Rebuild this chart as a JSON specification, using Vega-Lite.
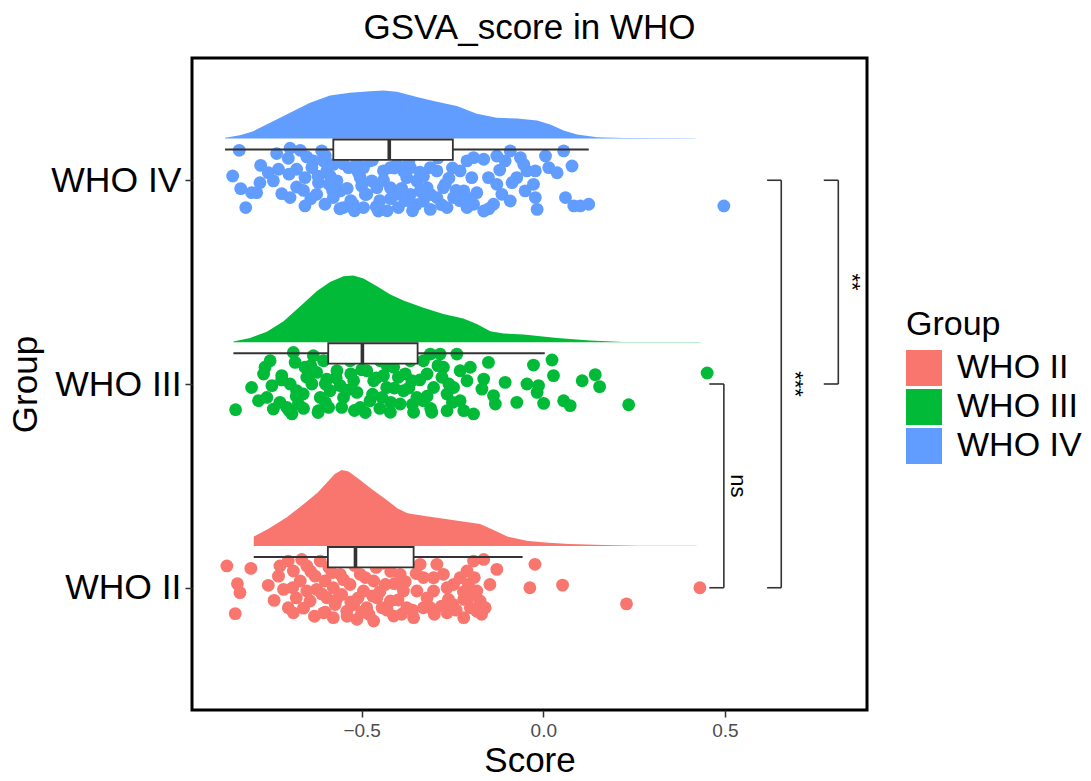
{
  "$schema": "https://vega.github.io/schema/vega-lite/v6.json",
  "width": 675,
  "height": 652,
  "autosize": {"type": "none"},
  "padding": {"left": 192, "top": 58, "right": 224, "bottom": 71},
  "background": "white",
  "config": {
    "font": "Liberation Sans",
    "view": {"stroke": "#000000", "strokeWidth": 3},
    "axis": {"grid": false, "domain": false}
  },
  "title": {
    "text": "GSVA_score in WHO",
    "fontSize": 35,
    "fontWeight": "normal",
    "color": "#000000",
    "anchor": "middle",
    "offset": 12
  },
  "datasets": {
    "dens": [
      {"Group": "WHO IV", "Score": -0.876, "density": 0.003},
      {"Group": "WHO IV", "Score": -0.835, "density": 0.016},
      {"Group": "WHO IV", "Score": -0.798, "density": 0.036},
      {"Group": "WHO IV", "Score": -0.752, "density": 0.077},
      {"Group": "WHO IV", "Score": -0.697, "density": 0.126},
      {"Group": "WHO IV", "Score": -0.642, "density": 0.175},
      {"Group": "WHO IV", "Score": -0.587, "density": 0.211},
      {"Group": "WHO IV", "Score": -0.532, "density": 0.225},
      {"Group": "WHO IV", "Score": -0.477, "density": 0.232},
      {"Group": "WHO IV", "Score": -0.44, "density": 0.236},
      {"Group": "WHO IV", "Score": -0.403, "density": 0.229},
      {"Group": "WHO IV", "Score": -0.348, "density": 0.203},
      {"Group": "WHO IV", "Score": -0.293, "density": 0.18},
      {"Group": "WHO IV", "Score": -0.238, "density": 0.159},
      {"Group": "WHO IV", "Score": -0.183, "density": 0.121},
      {"Group": "WHO IV", "Score": -0.128, "density": 0.102},
      {"Group": "WHO IV", "Score": -0.072, "density": 0.098},
      {"Group": "WHO IV", "Score": -0.017, "density": 0.088},
      {"Group": "WHO IV", "Score": 0.019, "density": 0.069},
      {"Group": "WHO IV", "Score": 0.056, "density": 0.039},
      {"Group": "WHO IV", "Score": 0.093, "density": 0.02},
      {"Group": "WHO IV", "Score": 0.148, "density": 0.006},
      {"Group": "WHO IV", "Score": 0.221, "density": 0.002},
      {"Group": "WHO IV", "Score": 0.419, "density": 0.0015},
      {"Group": "WHO III", "Score": -0.853, "density": 0.003},
      {"Group": "WHO III", "Score": -0.807, "density": 0.021},
      {"Group": "WHO III", "Score": -0.761, "density": 0.051},
      {"Group": "WHO III", "Score": -0.715, "density": 0.103},
      {"Group": "WHO III", "Score": -0.669, "density": 0.177},
      {"Group": "WHO III", "Score": -0.623, "density": 0.251},
      {"Group": "WHO III", "Score": -0.587, "density": 0.296},
      {"Group": "WHO III", "Score": -0.55, "density": 0.324},
      {"Group": "WHO III", "Score": -0.523, "density": 0.328},
      {"Group": "WHO III", "Score": -0.495, "density": 0.313},
      {"Group": "WHO III", "Score": -0.458, "density": 0.275},
      {"Group": "WHO III", "Score": -0.421, "density": 0.234},
      {"Group": "WHO III", "Score": -0.385, "density": 0.205},
      {"Group": "WHO III", "Score": -0.33, "density": 0.169},
      {"Group": "WHO III", "Score": -0.275, "density": 0.139},
      {"Group": "WHO III", "Score": -0.22, "density": 0.116},
      {"Group": "WHO III", "Score": -0.183, "density": 0.09},
      {"Group": "WHO III", "Score": -0.146, "density": 0.054},
      {"Group": "WHO III", "Score": -0.109, "density": 0.043},
      {"Group": "WHO III", "Score": -0.054, "density": 0.038},
      {"Group": "WHO III", "Score": 0.038, "density": 0.021},
      {"Group": "WHO III", "Score": 0.129, "density": 0.008},
      {"Group": "WHO III", "Score": 0.221, "density": 0.0015},
      {"Group": "WHO III", "Score": 0.433, "density": 0.001},
      {"Group": "WHO II", "Score": -0.797, "density": 0.046},
      {"Group": "WHO II", "Score": -0.754, "density": 0.087},
      {"Group": "WHO II", "Score": -0.706, "density": 0.141},
      {"Group": "WHO II", "Score": -0.659, "density": 0.206},
      {"Group": "WHO II", "Score": -0.621, "density": 0.262},
      {"Group": "WHO II", "Score": -0.593, "density": 0.316},
      {"Group": "WHO II", "Score": -0.574, "density": 0.353},
      {"Group": "WHO II", "Score": -0.555, "density": 0.373},
      {"Group": "WHO II", "Score": -0.536, "density": 0.365},
      {"Group": "WHO II", "Score": -0.507, "density": 0.327},
      {"Group": "WHO II", "Score": -0.469, "density": 0.275},
      {"Group": "WHO II", "Score": -0.431, "density": 0.226},
      {"Group": "WHO II", "Score": -0.402, "density": 0.185},
      {"Group": "WHO II", "Score": -0.374, "density": 0.161},
      {"Group": "WHO II", "Score": -0.326, "density": 0.147},
      {"Group": "WHO II", "Score": -0.269, "density": 0.133},
      {"Group": "WHO II", "Score": -0.212, "density": 0.118},
      {"Group": "WHO II", "Score": -0.174, "density": 0.108},
      {"Group": "WHO II", "Score": -0.137, "density": 0.079},
      {"Group": "WHO II", "Score": -0.099, "density": 0.046},
      {"Group": "WHO II", "Score": -0.042, "density": 0.025},
      {"Group": "WHO II", "Score": 0.015, "density": 0.016},
      {"Group": "WHO II", "Score": 0.072, "density": 0.01},
      {"Group": "WHO II", "Score": 0.167, "density": 0.005},
      {"Group": "WHO II", "Score": 0.263, "density": 0.0015},
      {"Group": "WHO II", "Score": 0.422, "density": 0.0015}
    ],
    "pts": [
      {"Group": "WHO IV", "Score": -0.837, "jitter": 0.147},
      {"Group": "WHO IV", "Score": -0.855, "jitter": 0.021},
      {"Group": "WHO IV", "Score": -0.833, "jitter": -0.041},
      {"Group": "WHO IV", "Score": -0.803, "jitter": -0.061},
      {"Group": "WHO IV", "Score": -0.789, "jitter": -0.061},
      {"Group": "WHO IV", "Score": -0.819, "jitter": -0.134},
      {"Group": "WHO IV", "Score": -0.778, "jitter": 0.073},
      {"Group": "WHO IV", "Score": -0.757, "jitter": 0.037},
      {"Group": "WHO IV", "Score": -0.78, "jitter": -0.012},
      {"Group": "WHO IV", "Score": -0.734, "jitter": 0.131},
      {"Group": "WHO IV", "Score": -0.729, "jitter": 0.054},
      {"Group": "WHO IV", "Score": -0.743, "jitter": -0.003},
      {"Group": "WHO IV", "Score": -0.72, "jitter": -0.066},
      {"Group": "WHO IV", "Score": -0.697, "jitter": 0.157},
      {"Group": "WHO IV", "Score": -0.702, "jitter": 0.108},
      {"Group": "WHO IV", "Score": -0.669, "jitter": 0.147},
      {"Group": "WHO IV", "Score": -0.679, "jitter": 0.054},
      {"Group": "WHO IV", "Score": -0.656, "jitter": 0.013},
      {"Group": "WHO IV", "Score": -0.679, "jitter": -0.033},
      {"Group": "WHO IV", "Score": -0.697, "jitter": -0.085},
      {"Group": "WHO IV", "Score": -0.656, "jitter": -0.126},
      {"Group": "WHO IV", "Score": -0.651, "jitter": 0.114},
      {"Group": "WHO IV", "Score": -0.633, "jitter": 0.095},
      {"Group": "WHO IV", "Score": -0.637, "jitter": 0.062},
      {"Group": "WHO IV", "Score": -0.61, "jitter": 0.144},
      {"Group": "WHO IV", "Score": -0.605, "jitter": 0.095},
      {"Group": "WHO IV", "Score": -0.596, "jitter": 0.046},
      {"Group": "WHO IV", "Score": -0.619, "jitter": -0.012},
      {"Group": "WHO IV", "Score": -0.624, "jitter": -0.069},
      {"Group": "WHO IV", "Score": -0.601, "jitter": -0.118},
      {"Group": "WHO IV", "Score": -0.578, "jitter": 0.078},
      {"Group": "WHO IV", "Score": -0.587, "jitter": 0.021},
      {"Group": "WHO IV", "Score": -0.568, "jitter": -0.003},
      {"Group": "WHO IV", "Score": -0.559, "jitter": -0.052},
      {"Group": "WHO IV", "Score": -0.578, "jitter": -0.085},
      {"Group": "WHO IV", "Score": -0.55, "jitter": -0.134},
      {"Group": "WHO IV", "Score": -0.536, "jitter": 0.062},
      {"Group": "WHO IV", "Score": -0.513, "jitter": 0.095},
      {"Group": "WHO IV", "Score": -0.495, "jitter": 0.062},
      {"Group": "WHO IV", "Score": -0.477, "jitter": 0.095},
      {"Group": "WHO IV", "Score": -0.504, "jitter": 0.013},
      {"Group": "WHO IV", "Score": -0.5, "jitter": -0.028},
      {"Group": "WHO IV", "Score": -0.486, "jitter": -0.069},
      {"Group": "WHO IV", "Score": -0.523, "jitter": -0.118},
      {"Group": "WHO IV", "Score": -0.495, "jitter": -0.134},
      {"Group": "WHO IV", "Score": -0.454, "jitter": -0.151},
      {"Group": "WHO IV", "Score": -0.458, "jitter": -0.036},
      {"Group": "WHO IV", "Score": -0.472, "jitter": -0.003},
      {"Group": "WHO IV", "Score": -0.44, "jitter": 0.046},
      {"Group": "WHO IV", "Score": -0.421, "jitter": 0.062},
      {"Group": "WHO IV", "Score": -0.403, "jitter": 0.078},
      {"Group": "WHO IV", "Score": -0.385, "jitter": 0.046},
      {"Group": "WHO IV", "Score": -0.366, "jitter": 0.062},
      {"Group": "WHO IV", "Score": -0.421, "jitter": -0.036},
      {"Group": "WHO IV", "Score": -0.403, "jitter": -0.069},
      {"Group": "WHO IV", "Score": -0.376, "jitter": 0.013},
      {"Group": "WHO IV", "Score": -0.348, "jitter": -0.003},
      {"Group": "WHO IV", "Score": -0.366, "jitter": -0.069},
      {"Group": "WHO IV", "Score": -0.339, "jitter": -0.052},
      {"Group": "WHO IV", "Score": -0.33, "jitter": -0.102},
      {"Group": "WHO IV", "Score": -0.399, "jitter": -0.134},
      {"Group": "WHO IV", "Score": -0.311, "jitter": 0.062},
      {"Group": "WHO IV", "Score": -0.293, "jitter": 0.046},
      {"Group": "WHO IV", "Score": -0.32, "jitter": -0.036},
      {"Group": "WHO IV", "Score": -0.275, "jitter": -0.036},
      {"Group": "WHO IV", "Score": -0.293, "jitter": -0.085},
      {"Group": "WHO IV", "Score": -0.311, "jitter": -0.143},
      {"Group": "WHO IV", "Score": -0.265, "jitter": -0.134},
      {"Group": "WHO IV", "Score": -0.247, "jitter": -0.085},
      {"Group": "WHO IV", "Score": -0.229, "jitter": 0.046},
      {"Group": "WHO IV", "Score": -0.21, "jitter": 0.095},
      {"Group": "WHO IV", "Score": -0.192, "jitter": 0.111},
      {"Group": "WHO IV", "Score": -0.164, "jitter": 0.103},
      {"Group": "WHO IV", "Score": -0.197, "jitter": 0.013},
      {"Group": "WHO IV", "Score": -0.219, "jitter": -0.052},
      {"Group": "WHO IV", "Score": -0.183, "jitter": -0.061},
      {"Group": "WHO IV", "Score": -0.192, "jitter": -0.118},
      {"Group": "WHO IV", "Score": -0.164, "jitter": -0.151},
      {"Group": "WHO IV", "Score": -0.21, "jitter": -0.134},
      {"Group": "WHO IV", "Score": -0.151, "jitter": 0.013},
      {"Group": "WHO IV", "Score": -0.128, "jitter": -0.02},
      {"Group": "WHO IV", "Score": -0.114, "jitter": -0.069},
      {"Group": "WHO IV", "Score": -0.091, "jitter": -0.102},
      {"Group": "WHO IV", "Score": -0.137, "jitter": -0.118},
      {"Group": "WHO IV", "Score": -0.128, "jitter": 0.119},
      {"Group": "WHO IV", "Score": -0.105, "jitter": 0.095},
      {"Group": "WHO IV", "Score": -0.091, "jitter": 0.144},
      {"Group": "WHO IV", "Score": -0.063, "jitter": 0.111},
      {"Group": "WHO IV", "Score": -0.054, "jitter": 0.078},
      {"Group": "WHO IV", "Score": -0.045, "jitter": 0.046},
      {"Group": "WHO IV", "Score": -0.073, "jitter": 0.013},
      {"Group": "WHO IV", "Score": -0.086, "jitter": -0.012},
      {"Group": "WHO IV", "Score": -0.022, "jitter": 0.046},
      {"Group": "WHO IV", "Score": -0.027, "jitter": -0.02},
      {"Group": "WHO IV", "Score": -0.05, "jitter": -0.052},
      {"Group": "WHO IV", "Score": -0.022, "jitter": -0.085},
      {"Group": "WHO IV", "Score": -0.017, "jitter": -0.143},
      {"Group": "WHO IV", "Score": 0.006, "jitter": 0.119},
      {"Group": "WHO IV", "Score": 0.015, "jitter": 0.062},
      {"Group": "WHO IV", "Score": 0.038, "jitter": 0.037},
      {"Group": "WHO IV", "Score": 0.056, "jitter": 0.144},
      {"Group": "WHO IV", "Score": 0.079, "jitter": 0.07},
      {"Group": "WHO IV", "Score": 0.061, "jitter": -0.085},
      {"Group": "WHO IV", "Score": 0.084, "jitter": -0.126},
      {"Group": "WHO IV", "Score": 0.102, "jitter": -0.126},
      {"Group": "WHO IV", "Score": 0.125, "jitter": -0.118},
      {"Group": "WHO IV", "Score": 0.497, "jitter": -0.126},
      {"Group": "WHO IV", "Score": -0.62, "jitter": 0.02},
      {"Group": "WHO IV", "Score": -0.58, "jitter": -0.05},
      {"Group": "WHO IV", "Score": -0.55, "jitter": 0.08},
      {"Group": "WHO IV", "Score": -0.53, "jitter": -0.1},
      {"Group": "WHO IV", "Score": -0.51, "jitter": 0.04},
      {"Group": "WHO IV", "Score": -0.49, "jitter": -0.07},
      {"Group": "WHO IV", "Score": -0.47, "jitter": 0.1},
      {"Group": "WHO IV", "Score": -0.46, "jitter": -0.13},
      {"Group": "WHO IV", "Score": -0.44, "jitter": 0.0},
      {"Group": "WHO IV", "Score": -0.42, "jitter": -0.09},
      {"Group": "WHO IV", "Score": -0.41, "jitter": 0.06},
      {"Group": "WHO IV", "Score": -0.39, "jitter": -0.04},
      {"Group": "WHO IV", "Score": -0.37, "jitter": 0.09},
      {"Group": "WHO IV", "Score": -0.35, "jitter": -0.12},
      {"Group": "WHO IV", "Score": -0.33, "jitter": 0.02},
      {"Group": "WHO IV", "Score": -0.31, "jitter": -0.07},
      {"Group": "WHO IV", "Score": -0.29, "jitter": 0.11},
      {"Group": "WHO IV", "Score": -0.27, "jitter": -0.02},
      {"Group": "WHO IV", "Score": -0.25, "jitter": 0.06},
      {"Group": "WHO IV", "Score": -0.23, "jitter": -0.1},
      {"Group": "WHO IV", "Score": -0.6, "jitter": 0.12},
      {"Group": "WHO IV", "Score": -0.66, "jitter": -0.05},
      {"Group": "WHO IV", "Score": -0.7, "jitter": 0.03},
      {"Group": "WHO IV", "Score": -0.56, "jitter": -0.14},
      {"Group": "WHO IV", "Score": -0.48, "jitter": 0.13},
      {"Group": "WHO IV", "Score": -0.64, "jitter": -0.09},
      {"Group": "WHO IV", "Score": -0.59, "jitter": -0.02},
      {"Group": "WHO IV", "Score": -0.54, "jitter": -0.04},
      {"Group": "WHO IV", "Score": -0.52, "jitter": -0.15},
      {"Group": "WHO IV", "Score": -0.45, "jitter": -0.1},
      {"Group": "WHO IV", "Score": -0.43, "jitter": -0.15},
      {"Group": "WHO IV", "Score": -0.38, "jitter": -0.1},
      {"Group": "WHO IV", "Score": -0.36, "jitter": -0.15},
      {"Group": "WHO IV", "Score": -0.34, "jitter": 0.04},
      {"Group": "WHO IV", "Score": -0.28, "jitter": -0.12},
      {"Group": "WHO IV", "Score": -0.26, "jitter": 0.01},
      {"Group": "WHO IV", "Score": -0.24, "jitter": -0.05},
      {"Group": "WHO IV", "Score": -0.2, "jitter": -0.09},
      {"Group": "WHO IV", "Score": -0.15, "jitter": -0.14},
      {"Group": "WHO IV", "Score": -0.12, "jitter": 0.05},
      {"Group": "WHO III", "Score": -0.847, "jitter": -0.126},
      {"Group": "WHO III", "Score": -0.803, "jitter": -0.017},
      {"Group": "WHO III", "Score": -0.784, "jitter": -0.082},
      {"Group": "WHO III", "Score": -0.766, "jitter": 0.082},
      {"Group": "WHO III", "Score": -0.752, "jitter": 0.114},
      {"Group": "WHO III", "Score": -0.77, "jitter": 0.049},
      {"Group": "WHO III", "Score": -0.747, "jitter": -0.008},
      {"Group": "WHO III", "Score": -0.761, "jitter": -0.066},
      {"Group": "WHO III", "Score": -0.743, "jitter": -0.123},
      {"Group": "WHO III", "Score": -0.72, "jitter": 0.041},
      {"Group": "WHO III", "Score": -0.725, "jitter": -0.09},
      {"Group": "WHO III", "Score": -0.706, "jitter": -0.115},
      {"Group": "WHO III", "Score": -0.692, "jitter": -0.147},
      {"Group": "WHO III", "Score": -0.688, "jitter": 0.155},
      {"Group": "WHO III", "Score": -0.683, "jitter": 0.106},
      {"Group": "WHO III", "Score": -0.697, "jitter": 0.0},
      {"Group": "WHO III", "Score": -0.679, "jitter": -0.033},
      {"Group": "WHO III", "Score": -0.674, "jitter": -0.098},
      {"Group": "WHO III", "Score": -0.656, "jitter": 0.082},
      {"Group": "WHO III", "Score": -0.651, "jitter": 0.033},
      {"Group": "WHO III", "Score": -0.661, "jitter": -0.049},
      {"Group": "WHO III", "Score": -0.633, "jitter": 0.139},
      {"Group": "WHO III", "Score": -0.624, "jitter": 0.057},
      {"Group": "WHO III", "Score": -0.637, "jitter": 0.0},
      {"Group": "WHO III", "Score": -0.614, "jitter": -0.066},
      {"Group": "WHO III", "Score": -0.619, "jitter": -0.131},
      {"Group": "WHO III", "Score": -0.605, "jitter": 0.114},
      {"Group": "WHO III", "Score": -0.596, "jitter": 0.024},
      {"Group": "WHO III", "Score": -0.587, "jitter": -0.033},
      {"Group": "WHO III", "Score": -0.591, "jitter": -0.115},
      {"Group": "WHO III", "Score": -0.568, "jitter": 0.065},
      {"Group": "WHO III", "Score": -0.559, "jitter": -0.008},
      {"Group": "WHO III", "Score": -0.55, "jitter": -0.066},
      {"Group": "WHO III", "Score": -0.555, "jitter": -0.115},
      {"Group": "WHO III", "Score": -0.532, "jitter": 0.114},
      {"Group": "WHO III", "Score": -0.522, "jitter": 0.016},
      {"Group": "WHO III", "Score": -0.513, "jitter": -0.041},
      {"Group": "WHO III", "Score": -0.504, "jitter": -0.115},
      {"Group": "WHO III", "Score": -0.486, "jitter": 0.065},
      {"Group": "WHO III", "Score": -0.467, "jitter": 0.016},
      {"Group": "WHO III", "Score": -0.477, "jitter": -0.082},
      {"Group": "WHO III", "Score": -0.449, "jitter": 0.114},
      {"Group": "WHO III", "Score": -0.44, "jitter": 0.041},
      {"Group": "WHO III", "Score": -0.431, "jitter": -0.017},
      {"Group": "WHO III", "Score": -0.444, "jitter": -0.066},
      {"Group": "WHO III", "Score": -0.421, "jitter": -0.139},
      {"Group": "WHO III", "Score": -0.412, "jitter": 0.082},
      {"Group": "WHO III", "Score": -0.399, "jitter": 0.033},
      {"Group": "WHO III", "Score": -0.385, "jitter": -0.033},
      {"Group": "WHO III", "Score": -0.394, "jitter": -0.098},
      {"Group": "WHO III", "Score": -0.366, "jitter": 0.114},
      {"Group": "WHO III", "Score": -0.362, "jitter": 0.016},
      {"Group": "WHO III", "Score": -0.348, "jitter": -0.066},
      {"Group": "WHO III", "Score": -0.357, "jitter": -0.139},
      {"Group": "WHO III", "Score": -0.33, "jitter": 0.114},
      {"Group": "WHO III", "Score": -0.32, "jitter": 0.049},
      {"Group": "WHO III", "Score": -0.311, "jitter": 0.147},
      {"Group": "WHO III", "Score": -0.302, "jitter": -0.017},
      {"Group": "WHO III", "Score": -0.33, "jitter": -0.082},
      {"Group": "WHO III", "Score": -0.307, "jitter": -0.139},
      {"Group": "WHO III", "Score": -0.284, "jitter": 0.147},
      {"Group": "WHO III", "Score": -0.275, "jitter": 0.082},
      {"Group": "WHO III", "Score": -0.279, "jitter": 0.033},
      {"Group": "WHO III", "Score": -0.265, "jitter": -0.049},
      {"Group": "WHO III", "Score": -0.265, "jitter": -0.131},
      {"Group": "WHO III", "Score": -0.238, "jitter": 0.147},
      {"Group": "WHO III", "Score": -0.229, "jitter": 0.065},
      {"Group": "WHO III", "Score": -0.247, "jitter": -0.017},
      {"Group": "WHO III", "Score": -0.229, "jitter": -0.082},
      {"Group": "WHO III", "Score": -0.219, "jitter": -0.131},
      {"Group": "WHO III", "Score": -0.201, "jitter": 0.082},
      {"Group": "WHO III", "Score": -0.21, "jitter": 0.016},
      {"Group": "WHO III", "Score": -0.192, "jitter": -0.147},
      {"Group": "WHO III", "Score": -0.164, "jitter": 0.024},
      {"Group": "WHO III", "Score": -0.169, "jitter": -0.025},
      {"Group": "WHO III", "Score": -0.151, "jitter": 0.106},
      {"Group": "WHO III", "Score": -0.137, "jitter": -0.057},
      {"Group": "WHO III", "Score": -0.132, "jitter": -0.098},
      {"Group": "WHO III", "Score": -0.105, "jitter": 0.008},
      {"Group": "WHO III", "Score": -0.073, "jitter": -0.09},
      {"Group": "WHO III", "Score": -0.045, "jitter": 0.0},
      {"Group": "WHO III", "Score": -0.027, "jitter": 0.093},
      {"Group": "WHO III", "Score": -0.017, "jitter": -0.041},
      {"Group": "WHO III", "Score": 0.001, "jitter": -0.095},
      {"Group": "WHO III", "Score": -0.013, "jitter": -0.008},
      {"Group": "WHO III", "Score": 0.024, "jitter": 0.118},
      {"Group": "WHO III", "Score": 0.028, "jitter": 0.041},
      {"Group": "WHO III", "Score": 0.056, "jitter": -0.082},
      {"Group": "WHO III", "Score": 0.074, "jitter": -0.106},
      {"Group": "WHO III", "Score": 0.107, "jitter": 0.016},
      {"Group": "WHO III", "Score": 0.143, "jitter": 0.046},
      {"Group": "WHO III", "Score": 0.155, "jitter": -0.013},
      {"Group": "WHO III", "Score": 0.235, "jitter": -0.102},
      {"Group": "WHO III", "Score": 0.451, "jitter": 0.054},
      {"Group": "WHO III", "Score": -0.72, "jitter": 0.02},
      {"Group": "WHO III", "Score": -0.68, "jitter": -0.06},
      {"Group": "WHO III", "Score": -0.64, "jitter": 0.09},
      {"Group": "WHO III", "Score": -0.6, "jitter": -0.09},
      {"Group": "WHO III", "Score": -0.57, "jitter": 0.03},
      {"Group": "WHO III", "Score": -0.54, "jitter": -0.03},
      {"Group": "WHO III", "Score": -0.52, "jitter": -0.13},
      {"Group": "WHO III", "Score": -0.5, "jitter": 0.07},
      {"Group": "WHO III", "Score": -0.47, "jitter": -0.05},
      {"Group": "WHO III", "Score": -0.45, "jitter": -0.12},
      {"Group": "WHO III", "Score": -0.43, "jitter": 0.09},
      {"Group": "WHO III", "Score": -0.41, "jitter": -0.02},
      {"Group": "WHO III", "Score": -0.38, "jitter": 0.05},
      {"Group": "WHO III", "Score": -0.36, "jitter": -0.1},
      {"Group": "WHO III", "Score": -0.34, "jitter": 0.02},
      {"Group": "WHO III", "Score": -0.32, "jitter": -0.06},
      {"Group": "WHO III", "Score": -0.29, "jitter": 0.09},
      {"Group": "WHO III", "Score": -0.25, "jitter": -0.09},
      {"Group": "WHO III", "Score": -0.62, "jitter": -0.14},
      {"Group": "WHO III", "Score": -0.58, "jitter": 0.13},
      {"Group": "WHO III", "Score": -0.7, "jitter": -0.13},
      {"Group": "WHO III", "Score": -0.66, "jitter": -0.12},
      {"Group": "WHO III", "Score": -0.6, "jitter": 0.0},
      {"Group": "WHO III", "Score": -0.53, "jitter": 0.05},
      {"Group": "WHO III", "Score": -0.49, "jitter": -0.14},
      {"Group": "WHO III", "Score": -0.46, "jitter": 0.03},
      {"Group": "WHO III", "Score": -0.42, "jitter": -0.09},
      {"Group": "WHO III", "Score": -0.37, "jitter": -0.02},
      {"Group": "WHO III", "Score": -0.31, "jitter": -0.12},
      {"Group": "WHO III", "Score": -0.26, "jitter": 0.0},
      {"Group": "WHO II", "Score": -0.871, "jitter": 0.107},
      {"Group": "WHO II", "Score": -0.805, "jitter": 0.095},
      {"Group": "WHO II", "Score": -0.842, "jitter": 0.02},
      {"Group": "WHO II", "Score": -0.835, "jitter": -0.024},
      {"Group": "WHO II", "Score": -0.848, "jitter": -0.127},
      {"Group": "WHO II", "Score": -0.741, "jitter": -0.062},
      {"Group": "WHO II", "Score": -0.757, "jitter": 0.012},
      {"Group": "WHO II", "Score": -0.725, "jitter": 0.107},
      {"Group": "WHO II", "Score": -0.729, "jitter": 0.057},
      {"Group": "WHO II", "Score": -0.715, "jitter": -0.008},
      {"Group": "WHO II", "Score": -0.702, "jitter": -0.098},
      {"Group": "WHO II", "Score": -0.688, "jitter": -0.123},
      {"Group": "WHO II", "Score": -0.702, "jitter": 0.131},
      {"Group": "WHO II", "Score": -0.688, "jitter": 0.082},
      {"Group": "WHO II", "Score": -0.669, "jitter": 0.033},
      {"Group": "WHO II", "Score": -0.665, "jitter": 0.139},
      {"Group": "WHO II", "Score": -0.651, "jitter": 0.107},
      {"Group": "WHO II", "Score": -0.651, "jitter": -0.016},
      {"Group": "WHO II", "Score": -0.642, "jitter": -0.065},
      {"Group": "WHO II", "Score": -0.628, "jitter": 0.057},
      {"Group": "WHO II", "Score": -0.624, "jitter": -0.008},
      {"Group": "WHO II", "Score": -0.614, "jitter": 0.131},
      {"Group": "WHO II", "Score": -0.601, "jitter": 0.033},
      {"Group": "WHO II", "Score": -0.596, "jitter": -0.049},
      {"Group": "WHO II", "Score": -0.605, "jitter": -0.123},
      {"Group": "WHO II", "Score": -0.582, "jitter": 0.074},
      {"Group": "WHO II", "Score": -0.578, "jitter": 0.0},
      {"Group": "WHO II", "Score": -0.573, "jitter": -0.082},
      {"Group": "WHO II", "Score": -0.578, "jitter": -0.147},
      {"Group": "WHO II", "Score": -0.559, "jitter": 0.066},
      {"Group": "WHO II", "Score": -0.555, "jitter": -0.033},
      {"Group": "WHO II", "Score": -0.541, "jitter": -0.115},
      {"Group": "WHO II", "Score": -0.532, "jitter": 0.016},
      {"Group": "WHO II", "Score": -0.522, "jitter": -0.082},
      {"Group": "WHO II", "Score": -0.513, "jitter": -0.155},
      {"Group": "WHO II", "Score": -0.504, "jitter": 0.066},
      {"Group": "WHO II", "Score": -0.495, "jitter": -0.016},
      {"Group": "WHO II", "Score": -0.486, "jitter": -0.098},
      {"Group": "WHO II", "Score": -0.467, "jitter": 0.033},
      {"Group": "WHO II", "Score": -0.458, "jitter": -0.049},
      {"Group": "WHO II", "Score": -0.444, "jitter": -0.098},
      {"Group": "WHO II", "Score": -0.467, "jitter": -0.163},
      {"Group": "WHO II", "Score": -0.435, "jitter": 0.016},
      {"Group": "WHO II", "Score": -0.421, "jitter": -0.065},
      {"Group": "WHO II", "Score": -0.412, "jitter": -0.139},
      {"Group": "WHO II", "Score": -0.394, "jitter": 0.066},
      {"Group": "WHO II", "Score": -0.385, "jitter": -0.016},
      {"Group": "WHO II", "Score": -0.376, "jitter": -0.098},
      {"Group": "WHO II", "Score": -0.357, "jitter": -0.147},
      {"Group": "WHO II", "Score": -0.348, "jitter": -0.016},
      {"Group": "WHO II", "Score": -0.339, "jitter": 0.115},
      {"Group": "WHO II", "Score": -0.33, "jitter": -0.098},
      {"Group": "WHO II", "Score": -0.311, "jitter": -0.098},
      {"Group": "WHO II", "Score": -0.302, "jitter": 0.049},
      {"Group": "WHO II", "Score": -0.302, "jitter": -0.016},
      {"Group": "WHO II", "Score": -0.293, "jitter": 0.115},
      {"Group": "WHO II", "Score": -0.275, "jitter": 0.066},
      {"Group": "WHO II", "Score": -0.265, "jitter": 0.0},
      {"Group": "WHO II", "Score": -0.261, "jitter": -0.057},
      {"Group": "WHO II", "Score": -0.265, "jitter": -0.123},
      {"Group": "WHO II", "Score": -0.247, "jitter": 0.016},
      {"Group": "WHO II", "Score": -0.229, "jitter": 0.049},
      {"Group": "WHO II", "Score": -0.219, "jitter": -0.057},
      {"Group": "WHO II", "Score": -0.21, "jitter": 0.082},
      {"Group": "WHO II", "Score": -0.206, "jitter": 0.016},
      {"Group": "WHO II", "Score": -0.201, "jitter": -0.098},
      {"Group": "WHO II", "Score": -0.192, "jitter": 0.131},
      {"Group": "WHO II", "Score": -0.183, "jitter": -0.016},
      {"Group": "WHO II", "Score": -0.174, "jitter": -0.065},
      {"Group": "WHO II", "Score": -0.164, "jitter": 0.139},
      {"Group": "WHO II", "Score": -0.16, "jitter": -0.098},
      {"Group": "WHO II", "Score": -0.147, "jitter": 0.016},
      {"Group": "WHO II", "Score": -0.128, "jitter": 0.09},
      {"Group": "WHO II", "Score": -0.219, "jitter": -0.147},
      {"Group": "WHO II", "Score": -0.183, "jitter": -0.115},
      {"Group": "WHO II", "Score": -0.023, "jitter": 0.115},
      {"Group": "WHO II", "Score": -0.037, "jitter": 0.0},
      {"Group": "WHO II", "Score": 0.053, "jitter": 0.013},
      {"Group": "WHO II", "Score": 0.229, "jitter": -0.079},
      {"Group": "WHO II", "Score": 0.431, "jitter": 0.0},
      {"Group": "WHO II", "Score": -0.69, "jitter": 0.0},
      {"Group": "WHO II", "Score": -0.66, "jitter": -0.1},
      {"Group": "WHO II", "Score": -0.64, "jitter": 0.08},
      {"Group": "WHO II", "Score": -0.61, "jitter": -0.03},
      {"Group": "WHO II", "Score": -0.59, "jitter": 0.1},
      {"Group": "WHO II", "Score": -0.57, "jitter": -0.06},
      {"Group": "WHO II", "Score": -0.55, "jitter": 0.04},
      {"Group": "WHO II", "Score": -0.54, "jitter": -0.14},
      {"Group": "WHO II", "Score": -0.52, "jitter": 0.11},
      {"Group": "WHO II", "Score": -0.51, "jitter": -0.05},
      {"Group": "WHO II", "Score": -0.49, "jitter": 0.05},
      {"Group": "WHO II", "Score": -0.48, "jitter": -0.13},
      {"Group": "WHO II", "Score": -0.46, "jitter": 0.1},
      {"Group": "WHO II", "Score": -0.45, "jitter": -0.02},
      {"Group": "WHO II", "Score": -0.43, "jitter": -0.11},
      {"Group": "WHO II", "Score": -0.42, "jitter": 0.08},
      {"Group": "WHO II", "Score": -0.4, "jitter": -0.06},
      {"Group": "WHO II", "Score": -0.38, "jitter": 0.03},
      {"Group": "WHO II", "Score": -0.36, "jitter": -0.11},
      {"Group": "WHO II", "Score": -0.33, "jitter": 0.05},
      {"Group": "WHO II", "Score": -0.32, "jitter": -0.05},
      {"Group": "WHO II", "Score": -0.28, "jitter": -0.09},
      {"Group": "WHO II", "Score": -0.24, "jitter": -0.11},
      {"Group": "WHO II", "Score": -0.22, "jitter": -0.02},
      {"Group": "WHO II", "Score": -0.19, "jitter": 0.05},
      {"Group": "WHO II", "Score": -0.17, "jitter": -0.13},
      {"Group": "WHO II", "Score": -0.6, "jitter": -0.12},
      {"Group": "WHO II", "Score": -0.5, "jitter": -0.12},
      {"Group": "WHO II", "Score": -0.44, "jitter": 0.12},
      {"Group": "WHO II", "Score": -0.68, "jitter": -0.05},
      {"Group": "WHO II", "Score": -0.63, "jitter": -0.14},
      {"Group": "WHO II", "Score": -0.56, "jitter": 0.13},
      {"Group": "WHO II", "Score": -0.53, "jitter": -0.07},
      {"Group": "WHO II", "Score": -0.47, "jitter": -0.04},
      {"Group": "WHO II", "Score": -0.41, "jitter": 0.02},
      {"Group": "WHO II", "Score": -0.39, "jitter": -0.13},
      {"Group": "WHO II", "Score": -0.35, "jitter": 0.07},
      {"Group": "WHO II", "Score": -0.3, "jitter": -0.13},
      {"Group": "WHO II", "Score": -0.25, "jitter": -0.08},
      {"Group": "WHO II", "Score": -0.2, "jitter": -0.04}
    ],
    "box": [
      {"Group": "WHO II", "lower": -0.797, "q1": -0.593, "median": -0.517, "q3": -0.357, "upper": -0.057},
      {"Group": "WHO III", "lower": -0.853, "q1": -0.592, "median": -0.498, "q3": -0.346, "upper": 0.004},
      {"Group": "WHO IV", "lower": -0.876, "q1": -0.578, "median": -0.424, "q3": -0.249, "upper": 0.125}
    ],
    "brackets": [
      {"pair": "II-III", "x": 0.497, "x2": 0.497, "y": 1, "y2": 2},
      {"pair": "II-III", "x": 0.457, "x2": 0.497, "y": 1, "y2": 1},
      {"pair": "II-III", "x": 0.457, "x2": 0.497, "y": 2, "y2": 2},
      {"pair": "II-IV", "x": 0.655, "x2": 0.655, "y": 1, "y2": 3},
      {"pair": "II-IV", "x": 0.616, "x2": 0.655, "y": 1, "y2": 1},
      {"pair": "II-IV", "x": 0.616, "x2": 0.655, "y": 3, "y2": 3},
      {"pair": "III-IV", "x": 0.812, "x2": 0.812, "y": 2, "y2": 3},
      {"pair": "III-IV", "x": 0.772, "x2": 0.812, "y": 2, "y2": 2},
      {"pair": "III-IV", "x": 0.772, "x2": 0.812, "y": 3, "y2": 3}
    ],
    "siglabels": [
      {"pair": "II-III", "label": "ns", "x": 0.516, "y": 1.5},
      {"pair": "II-IV", "label": "***", "x": 0.674, "y": 2},
      {"pair": "III-IV", "label": "**", "x": 0.831, "y": 2.5}
    ]
  },
  "layer": [
    {
      "data": {"name": "dens"},
      "transform": [
        {"calculate": "indexof(['WHO II','WHO III','WHO IV'], datum.Group) + 1", "as": "gpos"},
        {"calculate": "datum.gpos + 0.205", "as": "base"},
        {"calculate": "datum.base + datum.density", "as": "top"}
      ],
      "mark": {"type": "area", "orient": "vertical", "opacity": 1},
      "encoding": {
        "x": {
          "field": "Score", "type": "quantitative",
          "scale": {"domain": [-0.967, 0.891], "nice": false, "zero": false},
          "axis": {
            "title": "Score", "values": [-0.5, 0, 0.5], "format": ".1f",
            "labelFontSize": 19, "labelColor": "#4D4D4D", "labelPadding": 4,
            "tickColor": "#333333", "tickSize": 7, "tickWidth": 1.5,
            "titleFontSize": 35, "titleFontWeight": "normal", "titleColor": "#000000", "titlePadding": 3
          }
        },
        "y": {
          "field": "top", "type": "quantitative", "stack": null,
          "scale": {"domain": [0.4, 3.6], "nice": false, "zero": false},
          "axis": {
            "title": "Group", "values": [1, 2, 3],
            "labelExpr": "datum.value == 1 ? 'WHO II' : datum.value == 2 ? 'WHO III' : 'WHO IV'",
            "labelFontSize": 35.5, "labelColor": "#000000", "labelPadding": 4,
            "tickColor": "#333333", "tickSize": 7, "tickWidth": 1.5,
            "titleFontSize": 35, "titleFontWeight": "normal", "titleColor": "#000000", "titlePadding": 7
          }
        },
        "y2": {"field": "base"},
        "color": {
          "field": "Group", "type": "nominal",
          "scale": {"domain": ["WHO II", "WHO III", "WHO IV"], "range": ["#F8766D", "#00BA38", "#619CFF"]},
          "legend": {
            "title": "Group", "orient": "none", "legendX": 714, "legendY": 250,
            "symbolType": "square", "symbolSize": 1296, "symbolStrokeWidth": 0, "symbolOpacity": 1,
            "labelFontSize": 34, "labelOffset": 15, "titleFontSize": 34, "titleFontWeight": "normal",
            "titleColor": "#000000", "labelColor": "#000000", "titlePadding": 8, "rowPadding": 3
          }
        }
      }
    },
    {
      "data": {"name": "pts"},
      "transform": [
        {"calculate": "indexof(['WHO II','WHO III','WHO IV'], datum.Group) + 1 + datum.jitter", "as": "ypos"}
      ],
      "mark": {"type": "circle", "size": 165, "opacity": 1},
      "encoding": {
        "x": {"field": "Score", "type": "quantitative"},
        "y": {"field": "ypos", "type": "quantitative"},
        "color": {
          "field": "Group", "type": "nominal",
          "legend": {
            "title": "Group", "orient": "none", "legendX": 714, "legendY": 250,
            "symbolType": "square", "symbolSize": 1296, "symbolStrokeWidth": 0, "symbolOpacity": 1,
            "labelFontSize": 34, "labelOffset": 15, "titleFontSize": 34, "titleFontWeight": "normal",
            "titleColor": "#000000", "labelColor": "#000000", "titlePadding": 8, "rowPadding": 3
          }
        }
      }
    },
    {
      "data": {"name": "box"},
      "transform": [
        {"calculate": "indexof(['WHO II','WHO III','WHO IV'], datum.Group) + 1", "as": "gpos"},
        {"calculate": "datum.gpos + 0.151", "as": "wy"},
        {"calculate": "datum.gpos + 0.1", "as": "by"},
        {"calculate": "datum.gpos + 0.2", "as": "by2"}
      ],
      "layer": [
        {
          "mark": {"type": "rule", "color": "#333333", "strokeWidth": 1.8},
          "encoding": {
            "x": {"field": "lower", "type": "quantitative"},
            "x2": {"field": "upper"},
            "y": {"field": "wy", "type": "quantitative"}
          }
        },
        {
          "mark": {"type": "rect", "fill": "white", "stroke": "#333333", "strokeWidth": 1.8},
          "encoding": {
            "x": {"field": "q1", "type": "quantitative"},
            "x2": {"field": "q3"},
            "y": {"field": "by", "type": "quantitative"},
            "y2": {"field": "by2"}
          }
        },
        {
          "mark": {"type": "rule", "color": "#333333", "strokeWidth": 3.6},
          "encoding": {
            "x": {"field": "median", "type": "quantitative"},
            "y": {"field": "by", "type": "quantitative"},
            "y2": {"field": "by2"}
          }
        }
      ]
    },
    {
      "data": {"name": "brackets"},
      "mark": {"type": "rule", "color": "#333333", "strokeWidth": 1.6},
      "encoding": {
        "x": {"field": "x", "type": "quantitative"},
        "x2": {"field": "x2"},
        "y": {"field": "y", "type": "quantitative"},
        "y2": {"field": "y2"}
      }
    },
    {
      "data": {"name": "siglabels"},
      "mark": {"type": "text", "angle": 90, "align": "center", "baseline": "alphabetic", "fontSize": 22, "color": "#000000"},
      "encoding": {
        "x": {"field": "x", "type": "quantitative"},
        "y": {"field": "y", "type": "quantitative"},
        "text": {"field": "label"}
      }
    }
  ]
}
